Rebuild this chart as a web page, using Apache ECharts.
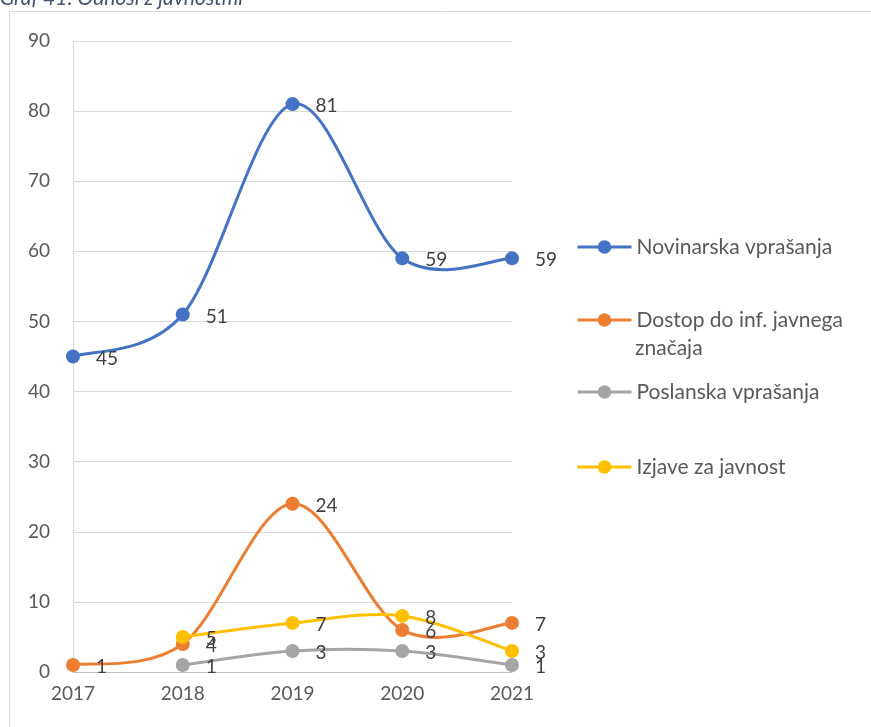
<!DOCTYPE html>
<html><head><meta charset="utf-8">
<script src="https://cdn.jsdelivr.net/npm/echarts@6/dist/echarts.min.js"></script>
<style>html,body{margin:0;padding:0;background:#fff}#c{width:871px;height:727px}</style>
</head><body><div id="c"></div>
<script>
const years = ['2017','2018','2019','2020','2021'];
const novinarska = [45, 51, 81, 59, 59];
const dostop = [1, 4, 24, 6, 7];
const poslanska = [null, 1, 3, 3, 1];
const izjave = [null, 5, 7, 8, 3];
const seriesNames = ['Novinarska vprašanja', 'Dostop do inf. javnega značaja', 'Poslanska vprašanja', 'Izjave za javnost'];
const colors = ['#4472C4', '#ED7D31', '#A5A5A5', '#FFC000'];
const FONT = 'Lato';
const FS = 19;
const LFS = 21;

// Excel-like smoothed curve (Catmull-Rom -> cubic Bezier), positions from axes via api.coord
function curveSeries(name, arr, color) {
  return {
    name: name + ' (curve)', type: 'custom', coordinateSystem: 'cartesian2d', silent: true, z: 2,
    data: [[0, arr.find(v => v != null)]],
    renderItem: function (params, api) {
      const pts = [];
      arr.forEach((v, i) => { if (v != null) pts.push(api.coord([i, v])); });
      let d = 'M' + pts[0][0] + ' ' + pts[0][1];
      for (let i = 0; i < pts.length - 1; i++) {
        const p0 = pts[i - 1] || pts[i], p1 = pts[i], p2 = pts[i + 1], p3 = pts[i + 2] || pts[i + 1];
        const c1 = [p1[0] + (p2[0] - p0[0]) / 6, p1[1] + (p2[1] - p0[1]) / 6];
        const c2 = [p2[0] - (p3[0] - p1[0]) / 6, p2[1] - (p3[1] - p1[1]) / 6];
        d += ' C' + c1[0] + ' ' + c1[1] + ' ' + c2[0] + ' ' + c2[1] + ' ' + p2[0] + ' ' + p2[1];
      }
      return { type: 'path', shape: { pathData: d },
        style: { stroke: color, lineWidth: 3, fill: 'none', lineCap: 'round', lineJoin: 'round' } };
    }
  };
}
function mk(name, data, color) {
  return {
    name, type: 'line', data,
    symbol: 'circle', symbolSize: 14,
    itemStyle: { color },
    lineStyle: { width: 3, color, opacity: 0 },
    label: { show: true, position: 'right', distance: 16, offset: [0, 2],
      color: '#404040', fontSize: FS, fontFamily: FONT },
    z: 3
  };
}
const chart = echarts.init(document.getElementById('c'));
const legendBase = {
  orient: 'vertical', left: 576, padding: 0, itemWidth: 54, itemHeight: 17,
  lineStyle: { width: 3, opacity: 1 },
  textStyle: { color: '#595959', fontSize: LFS, fontFamily: FONT, lineHeight: 24 },
  selectedMode: false
};
chart.setOption({
  animation: false,
  color: colors,
  graphic: [
    { type: 'rect', shape: { x: 9.5, y: 11.5, width: 880, height: 740 },
      style: { fill: 'none', stroke: '#D9D9D9', lineWidth: 1 }, silent: true },
    { type: 'text', left: 0, top: -12,
      style: { text: 'Graf 41: Odnosi z javnostmi', fill: '#44546A', fontSize: LFS,
        fontStyle: 'italic', fontFamily: FONT } },
    { type: 'text', left: 635, top: 338,
      style: { text: 'značaja', fill: '#595959', fontSize: LFS, fontFamily: FONT } }
  ],
  grid: { left: 73, right: 359, top: 41, bottom: 55 },
  legend: [
    Object.assign({}, legendBase, { top: 235, data: [seriesNames[0]] }),
    Object.assign({}, legendBase, { top: 308, data: [seriesNames[1]], formatter: () => 'Dostop do inf. javnega' }),
    Object.assign({}, legendBase, { top: 380, data: [seriesNames[2]] }),
    Object.assign({}, legendBase, { top: 455, data: [seriesNames[3]] })
  ],
  xAxis: {
    type: 'category', data: years, boundaryGap: false,
    axisLine: { lineStyle: { color: '#BFBFBF', width: 1 } },
    axisTick: { show: false },
    axisLabel: { color: '#595959', fontSize: FS, fontFamily: FONT, margin: 12 }
  },
  yAxis: {
    type: 'value', min: 0, max: 90, interval: 10,
    axisLine: { show: true, lineStyle: { color: '#D9D9D9' } },
    splitLine: { lineStyle: { color: '#D9D9D9' } },
    axisLabel: { color: '#595959', fontSize: FS, fontFamily: FONT, margin: 23 }
  },
  series: [
    curveSeries(seriesNames[0], novinarska, colors[0]),
    curveSeries(seriesNames[1], dostop, colors[1]),
    curveSeries(seriesNames[2], poslanska, colors[2]),
    curveSeries(seriesNames[3], izjave, colors[3]),
    mk(seriesNames[0], novinarska, colors[0]),
    mk(seriesNames[1], dostop, colors[1]),
    mk(seriesNames[2], poslanska, colors[2]),
    mk(seriesNames[3], izjave, colors[3])
  ]
});
</script></body></html>
